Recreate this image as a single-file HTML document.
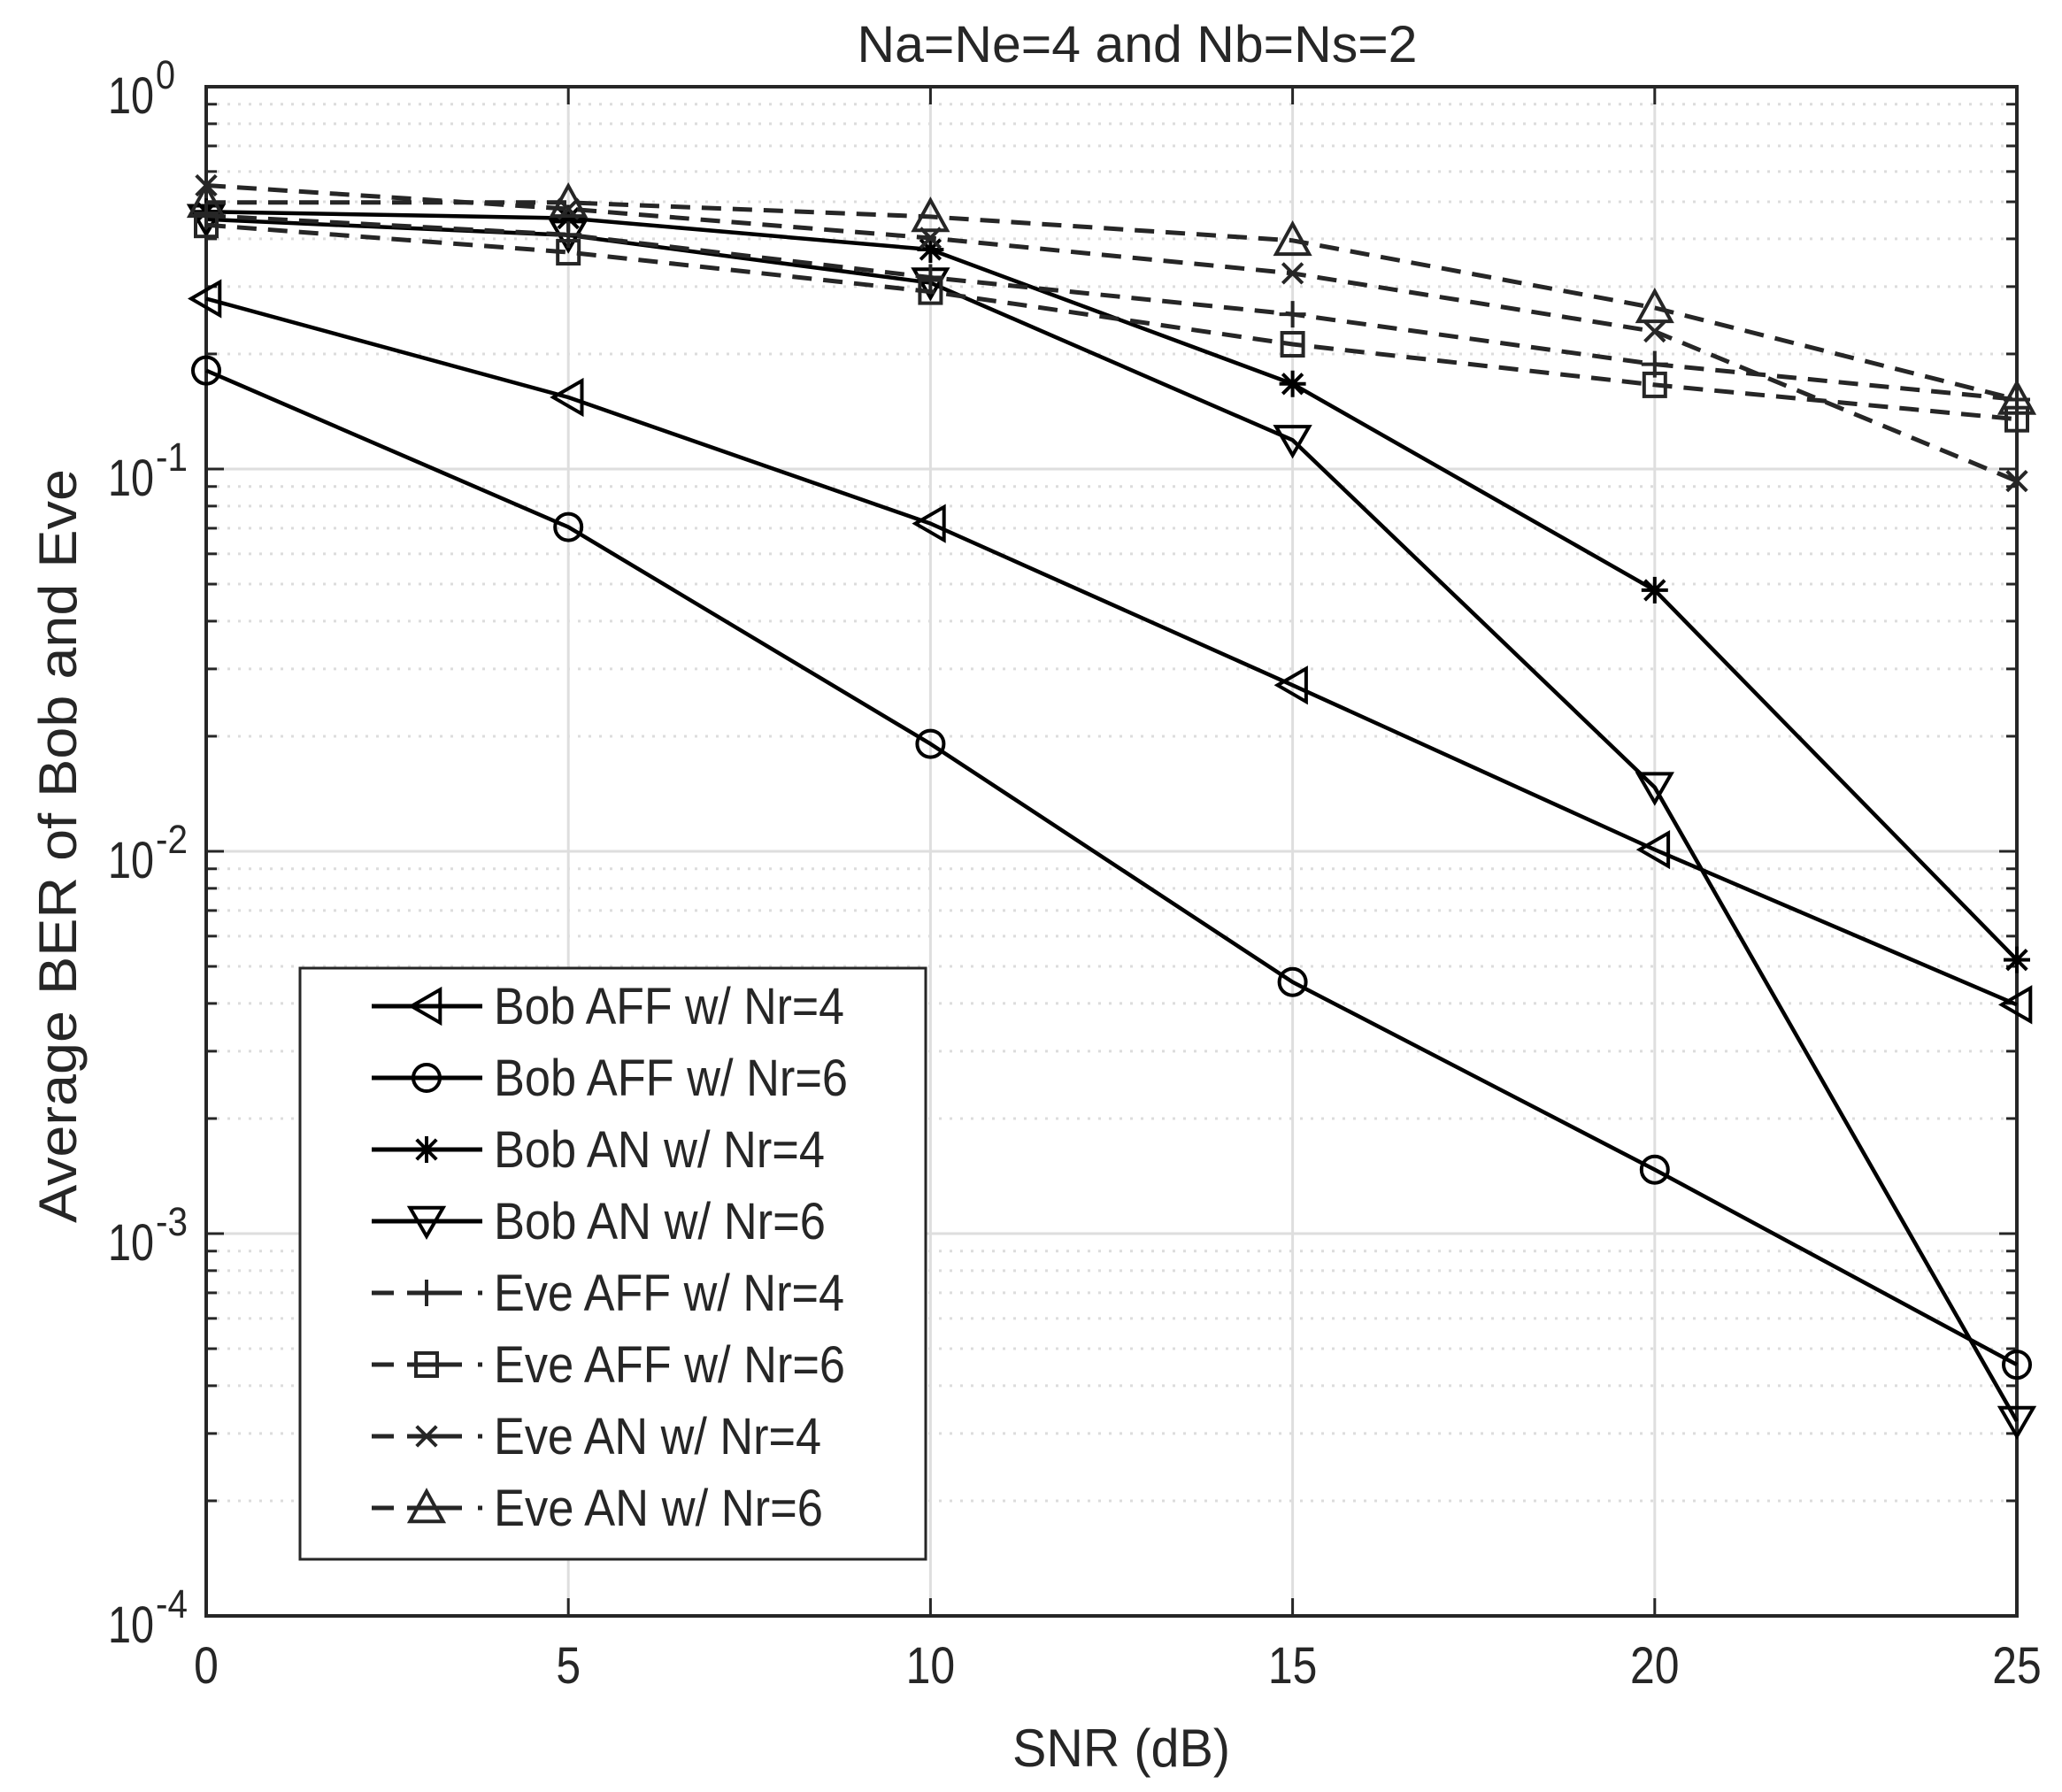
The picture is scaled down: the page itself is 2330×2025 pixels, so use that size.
<!DOCTYPE html>
<html><head><meta charset="utf-8"><style>
html,body{margin:0;padding:0;background:#fff}
svg{display:block}
text{font-family:"Liberation Sans",Arial,sans-serif;fill:#262626}
</style></head><body>
<svg id="chart" xmlns="http://www.w3.org/2000/svg" width="2330" height="2025" viewBox="0 0 2330 2025">
<rect x="0" y="0" width="2330" height="2025" fill="#fff"/>
<g id="grid"></g>
<g id="axes"></g>
<g id="series"></g>
<g id="legend"></g>
</svg>
<script>
const snr = [0, 5, 10, 15, 20, 25];
const xTicks = [0, 5, 10, 15, 20, 25];
const yTickExps = [0, -1, -2, -3, -4];
const seriesNames = ["Bob AFF w/ Nr=4","Bob AFF w/ Nr=6","Bob AN w/ Nr=4","Bob AN w/ Nr=6","Eve AFF w/ Nr=4","Eve AFF w/ Nr=6","Eve AN w/ Nr=4","Eve AN w/ Nr=6"];
const bobAffNr4 = [0.279, 0.154, 0.072, 0.0272, 0.0101, 0.00397];
const bobAffNr6 = [0.181, 0.0705, 0.0191, 0.00455, 0.00147, 0.000454];
const bobAnNr4 = [0.471, 0.453, 0.375, 0.167, 0.0482, 0.0052];
const bobAnNr6 = [0.45, 0.409, 0.307, 0.119, 0.0147, 0.000323];
const eveAffNr4 = [0.46, 0.41, 0.317, 0.254, 0.188, 0.152];
const eveAffNr6 = [0.435, 0.369, 0.291, 0.212, 0.166, 0.135];
const eveAnNr4 = [0.552, 0.479, 0.402, 0.325, 0.229, 0.093];
const eveAnNr6 = [0.498, 0.498, 0.457, 0.396, 0.264, 0.152];

const NS='http://www.w3.org/2000/svg';
const L=233,R=2279,T=98,B=1826;
const xMin=0,xMax=25,yMinExp=-4,yMaxExp=0;
function xs(v){return L+(v-xMin)/(xMax-xMin)*(R-L);}
function ys(v){return T+(yMaxExp-Math.log10(v))/(yMaxExp-yMinExp)*(B-T);}
function mk(tag,attrs,parent){const e=document.createElementNS(NS,tag);for(const k in attrs)e.setAttribute(k,attrs[k]);parent.appendChild(e);return e;}
const grid=document.getElementById('grid'),axes=document.getElementById('axes'),ser=document.getElementById('series'),leg=document.getElementById('legend');

for(let e=yMinExp;e<yMaxExp;e++){for(let m=2;m<=9;m++){const y=ys(m*Math.pow(10,e));
 const g=mk('line',{x1:L,x2:R,y1:y,y2:y,stroke:'#dcdcdc','stroke-width':3,'stroke-dasharray':'3 9'},grid);
 
 
 const t1=mk('line',{x1:L,x2:L+12,y1:y,y2:y,stroke:'#262626','stroke-width':3},axes);
 
 
 const t2=mk('line',{x1:R-12,x2:R,y1:y,y2:y,stroke:'#262626','stroke-width':3},axes);
 
 
}}
yTickExps.forEach(e=>{const y=ys(Math.pow(10,e));
 const g=mk('line',{x1:L,x2:R,y1:y,y2:y,stroke:'#dedede','stroke-width':3},grid);
 
 
 const t1=mk('line',{x1:L,x2:L+20,y1:y,y2:y,stroke:'#262626','stroke-width':3},axes);
 
 
 const t2=mk('line',{x1:R-20,x2:R,y1:y,y2:y,stroke:'#262626','stroke-width':3},axes);
 
 
 const tx=mk('text',{x:122,y:y+30,'font-size':58,textLength:52,lengthAdjust:'spacingAndGlyphs'},axes);
 
 
 tx.textContent='10';
 const sp=mk('text',{x:176,y:y+2,'font-size':45,textLength:e===0?22:36,lengthAdjust:'spacingAndGlyphs'},axes);
 
 
 sp.textContent=String(e);
});
xTicks.forEach(v=>{const x=xs(v);
 const g=mk('line',{x1:x,x2:x,y1:T,y2:B,stroke:'#dedede','stroke-width':3},grid);
 
 
 const t1=mk('line',{x1:x,x2:x,y1:B-20,y2:B,stroke:'#262626','stroke-width':3},axes);
 
 
 const t2=mk('line',{x1:x,x2:x,y1:T,y2:T+20,stroke:'#262626','stroke-width':3},axes);
 
 
 const tx=mk('text',{x:x/0.86,y:1902,'text-anchor':'middle','font-size':58,transform:'scale(0.86,1)'},axes);
 
 
 tx.textContent=String(v);
});
const box=mk('rect',{x:L,y:T,width:R-L,height:B-T,fill:'none',stroke:'#262626','stroke-width':4},axes);


const title=mk('text',{x:1285,y:70,'text-anchor':'middle','font-size':58,textLength:633,lengthAdjust:'spacingAndGlyphs'},axes);


title.textContent='Na=Ne=4 and Nb=Ns=2';
const xl=mk('text',{x:1267,y:1996,'text-anchor':'middle','font-size':60,textLength:246,lengthAdjust:'spacingAndGlyphs'},axes);


xl.textContent='SNR (dB)';
const yl=mk('text',{x:0,y:0,'text-anchor':'middle','font-size':60,textLength:852,lengthAdjust:'spacingAndGlyphs',transform:'translate(86,956) rotate(-90)'},axes);


yl.textContent='Average BER of Bob and Eve';

const styles=[
 {d:bobAffNr4,m:'tl',dash:false},{d:bobAffNr6,m:'o',dash:false},{d:bobAnNr4,m:'*',dash:false},{d:bobAnNr6,m:'td',dash:false},
 {d:eveAffNr4,m:'+',dash:true},{d:eveAffNr6,m:'s',dash:true},{d:eveAnNr4,m:'x',dash:true},{d:eveAnNr6,m:'tu',dash:true}];
function marker(type,x,y,col,parent){
 const s=17;const a={fill:'none',stroke:col,'stroke-width':4};let el;
 if(type==='tl')el=mk('polygon',Object.assign({points:`${x-s},${y} ${x+s*0.9},${y-s*1.1} ${x+s*0.9},${y+s*1.1}`},a),parent);
 else if(type==='td')el=mk('polygon',Object.assign({points:`${x},${y+s} ${x-s*1.1},${y-s*0.9} ${x+s*1.1},${y-s*0.9}`},a),parent);
 else if(type==='tu')el=mk('polygon',Object.assign({points:`${x},${y-s*1.1} ${x-s*1.1},${y+s*0.9} ${x+s*1.1},${y+s*0.9}`},a),parent);
 else if(type==='o')el=mk('circle',Object.assign({cx:x,cy:y,r:15},a),parent);
 else if(type==='s')el=mk('rect',Object.assign({x:x-12,y:y-13,width:24,height:26},a),parent);
 else{let d='';const r=15;
  if(type==='+'||type==='*')d+=`M${x-r},${y}H${x+r}M${x},${y-r}V${y+r}`;
  if(type==='x'||type==='*'){const q=r*0.75;d+=`M${x-q},${y-q}L${x+q},${y+q}M${x-q},${y+q}L${x+q},${y-q}`;}
  el=mk('path',Object.assign({d:d},a),parent);}
 
 
}
styles.forEach((st,i)=>{
 const col=st.dash?'#262626':'#000';
 const g=mk('g',{},ser);
 
 
 const pts=snr.map((v,j)=>xs(v)+','+ys(st.d[j])).join(' ');
 const pl=mk('polyline',{points:pts,fill:'none',stroke:col,'stroke-width':st.dash?5:4.5,'stroke-dasharray':st.dash?'22 13':'none','stroke-linejoin':'round'},g);
 
 
 snr.forEach((v,j)=>marker(st.m,xs(v),ys(st.d[j]),col,g));
});
const lb=mk('rect',{x:339,y:1094,width:707,height:668,fill:'#fff',stroke:'#262626','stroke-width':3},leg);


const lw=[396,400,374,375,396,397,370,372];
styles.forEach((st,i)=>{
 const y=1137+i*81;const col=st.dash?'#262626':'#000';
 const g=mk('g',{},leg);
 
 
 if(st.dash){
  const p=mk('path',{d:`M420,${y}H445M460,${y}H522M540,${y}H545`,stroke:col,'stroke-width':5,fill:'none'},g);
  
  
 }else{
  const p=mk('line',{x1:420,x2:545,y1:y,y2:y,stroke:col,'stroke-width':5},g);
  
  
 }
 marker(st.m,482,y,col,g);
 const t=mk('text',{x:558,y:y+20,'font-size':58,textLength:lw[i],lengthAdjust:'spacingAndGlyphs'},g);
 
 
 t.textContent=seriesNames[i];
});
</script>
</body></html>
